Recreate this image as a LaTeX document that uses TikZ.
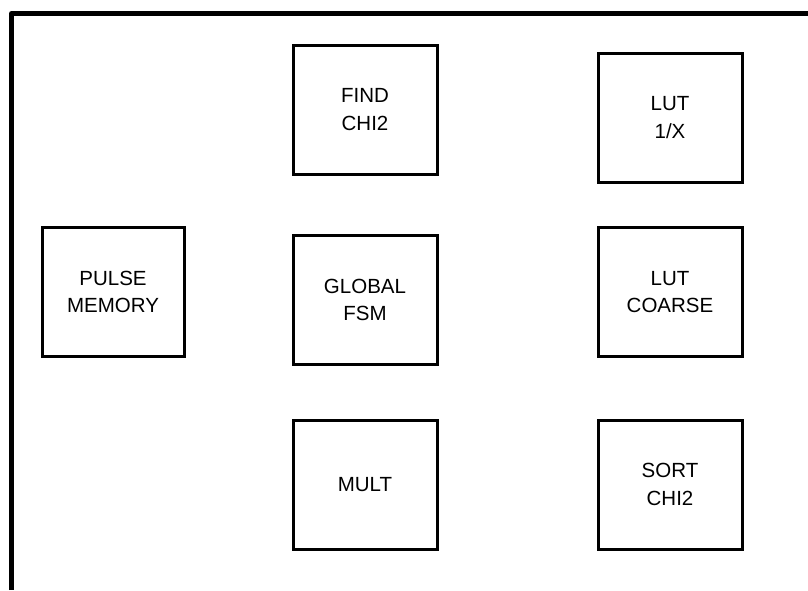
\documentclass[tikz,border=0pt]{standalone}
\usepackage{fontspec}
\setmainfont{Liberation Sans}
\usepackage{tikz}
\usetikzlibrary{positioning}

\begin{document}
\begin{tikzpicture}[
    x=1pt, y=-1pt,
    every node/.style={font=\fontsize{20.5}{27.5}\selectfont},
    blk/.style={draw, line width=3pt, minimum width=144pt, minimum height=129pt, align=center, inner sep=0pt},
    frame/.style={line width=5pt, line join=round},
]
\useasboundingbox (0,0) rectangle (808,590);

% === Outer frame (open at right and bottom) ===
\coordinate (fbot) at (11.5,590);
\coordinate (fcorner) at (11.5,13.5);
\coordinate (fright) at (808,13.5);
\draw[frame] (fbot) -- (fcorner) -- (fright);

% === Left column ===
\node[blk, minimum width=142pt] (pulse) at (113,292) {PULSE\\MEMORY};

% === Middle column ===
\node[blk] (find) at (365,109.5) {FIND\\CHI2};
\node[blk] (fsm) at (365,300) {GLOBAL\\FSM};
\node[blk] (mult) at (365,484.5) {MULT};

% === Right column ===
\node[blk] (lutx) at (670,117.5) {LUT\\1/X};
\node[blk] (lutc) at (670,292) {LUT\\COARSE};
\node[blk] (sort) at (670,484.5) {SORT\\CHI2};

\end{tikzpicture}
\end{document}
